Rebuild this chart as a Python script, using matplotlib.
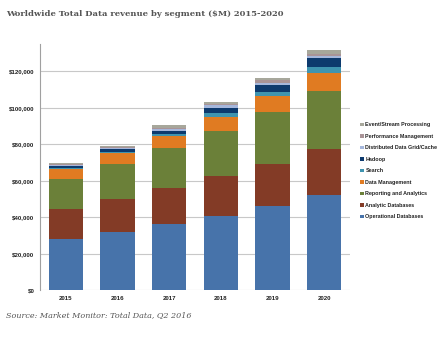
import matplotlib
import matplotlib.pyplot as plt
from matplotlib.ticker import FuncFormatter

matplotlib.use("Agg")

years = ['2015', '2016', '2017', '2018', '2019', '2020']

# revenue per segment, $M (bottom of stack first)
operational = [28000, 32000, 36300, 40800, 46200, 52200]
analytic = [16300, 17800, 19600, 21700, 23000, 25300]
reporting = [16700, 19400, 22000, 24900, 28400, 31500]
data_mgmt = [5300, 5900, 6700, 7500, 9000, 10100]
search = [900, 800, 1000, 2200, 2200, 3300]
hadoop = [1000, 1400, 1800, 2700, 3800, 4700]
distributed = [500, 600, 900, 1500, 1300, 1500]
performance = [500, 600, 900, 1000, 1300, 1100]
event = [500, 700, 1300, 800, 1300, 2200]

segments = ['Operational Databases', 'Analytic Databases', 'Reporting and Analytics',
            'Data Management', 'Search', 'Hadoop', 'Distributed Data Grid/Cache',
            'Performance Management', 'Event/Stream Processing']
series = [operational, analytic, reporting, data_mgmt, search, hadoop,
          distributed, performance, event]
colors = ['#4773aa', '#833b26', '#6b8039', '#e07b22', '#3f94b0', '#0d3a6e',
          '#a5b7dc', '#a99497', '#a7a79b']

fig = plt.figure(figsize=(4.47, 3.47), dpi=100)
ax = fig.add_axes([0.0895, 0.164, 0.6935, 0.709])

x = range(len(years))
bottom = [0] * len(years)
handles = []
for name, vals, c in zip(segments, series, colors):
    h = ax.bar(x, vals, 0.66, bottom=bottom, color=c, label=name, linewidth=0)
    handles.append(h)
    bottom = [b + v for b, v in zip(bottom, vals)]

ax.set_xlim(-0.5, 5.5)
ax.set_ylim(0, 135000)
ax.set_yticks(range(0, 120001, 20000))
ax.yaxis.set_major_formatter(FuncFormatter(lambda v, p: '${:,.0f}'.format(v)))
ax.set_xticks(list(x))
ax.set_xticklabels(years)
ax.tick_params(axis='both', length=0, labelsize=4.4, colors='#222222', pad=4)
for lab in ax.get_xticklabels() + ax.get_yticklabels():
    lab.set_fontweight('bold')
    lab.set_family('Liberation Sans')
ax.grid(axis='y', color='#c8c8c8', linewidth=0.8)
ax.set_axisbelow(True)
for s in ['top', 'right', 'bottom']:
    ax.spines[s].set_visible(False)
ax.spines['left'].set_color('#a0a0a0')
ax.spines['left'].set_linewidth(0.8)

leg = fig.legend(handles[::-1], segments[::-1], loc='upper left',
                 bbox_to_anchor=(0.806, 0.647), frameon=False,
                 prop={'size': 3.9, 'weight': 'bold', 'family': 'Liberation Sans'},
                 handlelength=0.6, handleheight=0.6, handletextpad=0.35,
                 labelspacing=1.2, borderaxespad=0, borderpad=0)
for t in leg.get_texts():
    t.set_color('#222222')

fig.text(0.013, 0.97, 'Worldwide Total Data revenue by segment ($M) 2015-2020',
         family='DejaVu Serif', weight='bold', size=6.0, color='#555555',
         va='top', ha='left')
fig.text(0.013, 0.092, 'Source: Market Monitor: Total Data, Q2 2016',
         family='DejaVu Serif', style='italic', size=5.8, color='#555555',
         va='center', ha='left')

plt.savefig('out.png', dpi=100)
plt.close()
